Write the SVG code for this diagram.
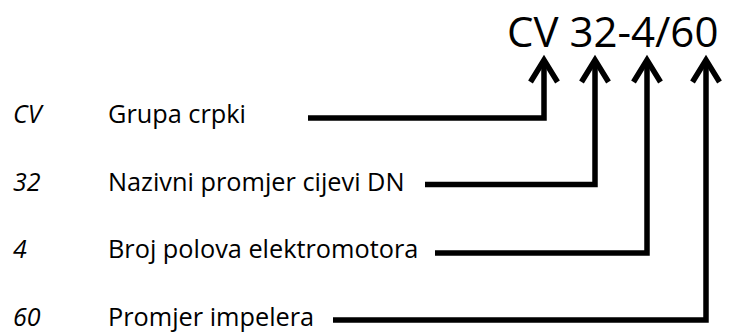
<svg xmlns="http://www.w3.org/2000/svg" width="730" height="332" viewBox="0 0 730 332">
<defs>
<style>
.title{font-family:"Open Sans","Liberation Sans",sans-serif;font-size:42px;fill:#000}
.code{font-family:"Open Sans","Liberation Sans",sans-serif;font-size:25px;font-style:italic;fill:#000}
.lbl{font-family:"Open Sans","Liberation Sans",sans-serif;font-size:25.3px;fill:#000}
.conn{fill:none;stroke:#000;stroke-width:5.5;stroke-linejoin:miter;marker-end:url(#ah)}
</style>
<marker id="ah" markerUnits="userSpaceOnUse" orient="auto" refX="0" refY="0" markerWidth="40" markerHeight="40" viewBox="-30 -20 40 40" overflow="visible">
<path d="M-22,-13.5 L0,0 L-22,13.5" fill="none" stroke="#000" stroke-width="5.5" stroke-linejoin="miter"/>
</marker>
</defs>
<rect width="730" height="332" fill="#fff"/>
<g id="title"><text class="title" x="507" y="47">CV 32-4/60</text></g>
<g id="row-cv"><text class="code" x="13" y="123">CV</text><text class="lbl" x="108" y="123">Grupa crpki</text></g>
<g id="row-32"><text class="code" x="13" y="191">32</text><text class="lbl" x="108" y="191">Nazivni promjer cijevi DN</text></g>
<g id="row-4"><text class="code" x="13" y="258">4</text><text class="lbl" x="108" y="258">Broj polova elektromotora</text></g>
<g id="row-60"><text class="code" x="13" y="326">60</text><text class="lbl" x="108" y="326">Promjer impelera</text></g>
<g id="connectors">
<path class="conn" d="M308,118 H544 V60"/>
<path class="conn" d="M425,184.5 H595 V60"/>
<path class="conn" d="M435,253 H647 V60"/>
<path class="conn" d="M333,320 H706 V60"/>
</g>
</svg>
